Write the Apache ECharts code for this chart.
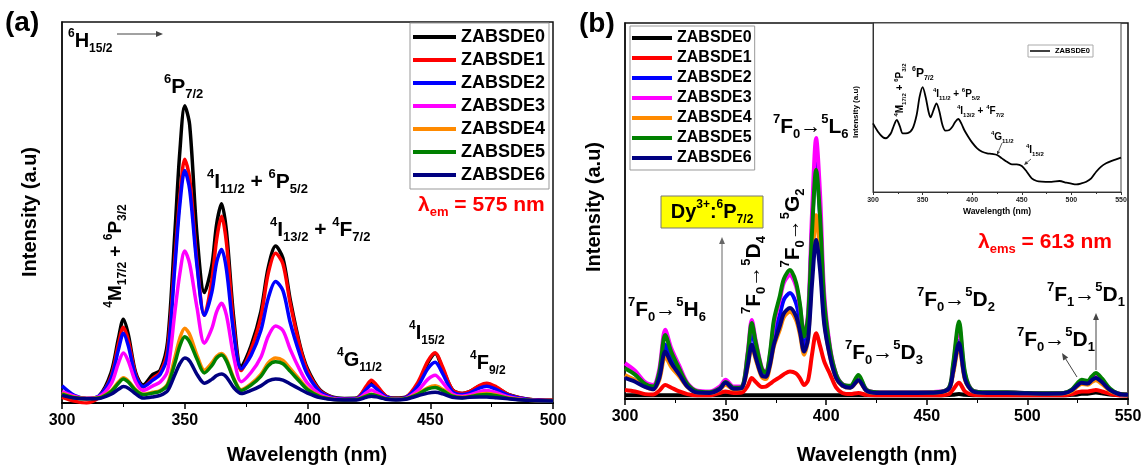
<!DOCTYPE html>
<html>
<head>
<meta charset="utf-8">
<script src="https://cdn.jsdelivr.net/npm/echarts@6/dist/echarts.min.js"></script>
<style>html,body{margin:0;padding:0;background:#fff}#chart{width:1146px;height:467px}</style>
</head>
<body>
<div id="chart"></div>
<script>
const FONT = '"Liberation Sans", Arial, Helvetica, sans-serif';
const names = ['ZABSDE0', 'ZABSDE1', 'ZABSDE2', 'ZABSDE3', 'ZABSDE4', 'ZABSDE5', 'ZABSDE6'];
const colors = ['#000000', '#ff0000', '#0000ff', '#ff00ff', '#ff8a00', '#008000', '#000080'];

// (a) excitation spectra, lambda_em = 575 nm
const wlA = [300, 305, 310, 315, 320, 323, 325, 327, 330, 333, 337, 340, 343, 346, 348, 350, 352, 355, 358, 361,
  363, 365, 367, 370, 373, 377, 381, 384, 387, 390, 393, 397, 400, 405, 410, 415, 420, 424, 426, 428,
  432, 436, 440, 445, 449, 452, 455, 459, 463, 466, 470, 473, 477, 482, 490, 500];
const aE0 = [2.5, 1.5, 1.2, 1.8, 8, 17, 22, 18, 8, 4.7, 7.5, 8.6, 16, 45, 66, 78, 73, 44, 29, 36,
  47, 52.3, 45, 22, 9.5, 15, 24, 35.5, 41.2, 38, 27, 15, 9, 3.5, 1.6, 1.2, 1.3, 4, 5.5, 4.5,
  1.8, 1.3, 1.5, 5, 10.5, 13, 9, 3.5, 2.5, 3, 4.4, 4.9, 4, 2.2, 1, 0.7];
const aE1 = [1.5, 0.5, 0, 1.5, 7, 15.5, 19.9, 16.5, 7.5, 4.2, 6.5, 8, 14, 38, 54, 64, 59, 37, 23, 32,
  43, 49, 42, 20, 8.5, 14, 22.5, 34, 39.3, 36.5, 26, 14.5, 8.5, 3.3, 1.5, 1, 1.2, 4.5, 6, 4.8,
  1.8, 1.2, 1.5, 5.5, 11, 13.2, 9.5, 3.5, 2.5, 3, 4.6, 5.2, 4.2, 2.2, 1, 0.7];
const aE2 = [4.5, 2, 1.2, 1.8, 6.5, 14, 18.3, 15, 7, 4.3, 6, 7.5, 12.5, 36, 52, 61, 56, 36, 23, 29,
  37, 40.3, 35, 18, 9, 12.5, 19, 27.5, 31.9, 29.5, 21, 12.5, 7.5, 3, 1.4, 1, 1.1, 3.6, 4.7, 3.8,
  1.6, 1.1, 1.4, 4.5, 9, 10.7, 7.8, 3, 2.2, 2.6, 3.9, 4.4, 3.5, 2, 0.9, 0.6];
const aE3 = [3, 1.8, 1.2, 1.6, 5, 10.5, 13.1, 11, 5.5, 3.3, 4.5, 5.5, 8.5, 24, 34, 39.9, 36.5, 25, 15.7, 19.5,
  24, 26.2, 23, 12, 5.6, 8, 12, 17.5, 20.2, 19, 14, 8.5, 5.2, 2.3, 1.2, 0.9, 1, 2.7, 3.4, 2.8,
  1.3, 1, 1.2, 3.3, 6.2, 7.3, 5.4, 2.4, 1.8, 2.1, 3, 3.3, 2.7, 1.6, 0.8, 0.5];
const aE4 = [2.5, 1.5, 1.2, 1.4, 3.2, 5.5, 6.6, 5.8, 3.5, 2.3, 2.8, 3.3, 5, 12, 17, 19.6, 18, 12.5, 8.6, 10.5,
  12.3, 13, 11.5, 6.5, 3.5, 5, 7.5, 10.5, 11.8, 11.2, 9, 6, 3.8, 1.8, 1, 0.8, 0.9, 1.9, 2.3, 2,
  1.1, 0.9, 1.1, 2.5, 4, 4.5, 3.6, 1.9, 1.5, 1.7, 2.3, 2.5, 2.1, 1.3, 0.7, 0.5];
const aE5 = [2.3, 1.4, 1.1, 1.3, 3, 5.2, 6.3, 5.5, 3.3, 2.2, 2.6, 3.1, 4.7, 10.5, 15, 17.4, 16, 11.5, 7.9, 9.8,
  11.8, 12.6, 11, 6.2, 3.3, 4.7, 7, 9.8, 10.8, 10.3, 8.3, 5.5, 3.5, 1.7, 1, 0.8, 0.9, 1.8, 2.2, 1.9,
  1.1, 0.9, 1.1, 2.3, 3.7, 4.1, 3.3, 1.8, 1.4, 1.6, 2.1, 2.2, 1.9, 1.2, 0.7, 0.5];
const aE6 = [2, 1.3, 1.1, 1.2, 2.3, 3.6, 4.3, 3.9, 2.4, 1.3, 1.6, 2, 3.2, 7.5, 10.3, 11.8, 11, 7.5, 5.2, 6.2,
  7.2, 7.6, 6.8, 4, 2.5, 3.3, 4.5, 5.8, 6.3, 6, 5, 3.6, 2.6, 1.4, 0.9, 0.8, 0.8, 1.5, 1.8, 1.6,
  1, 0.8, 1, 1.9, 2.6, 2.8, 2.4, 1.5, 1.3, 1.5, 1.6, 1.6, 1.4, 1.1, 0.7, 0.5];

// (b) excitation spectra, lambda_ems = 613 nm
const wlB = [300, 305, 310, 314, 317, 320, 323, 327, 331, 336, 342, 347, 350, 354, 358, 361, 363, 365, 368, 370,
  372, 374, 377, 379, 382, 385, 387, 389, 391, 393, 395, 397, 399, 402, 405, 408, 412, 416, 420, 425,
  435, 445, 455, 461, 463, 466, 469, 473, 480, 490, 500, 510, 518, 522, 525, 527, 530, 532, 534, 537,
  541, 545, 550];
const bE0 = [1, 1, 1, 1, 1, 1, 1, 1, 1, 1, 1, 1, 1, 1, 1, 1, 1, 1, 1, 1,
  1, 1, 1, 1, 1, 1, 1, 1, 1, 1, 1, 1, 1, 1, 1, 1, 1, 1, 1, 1,
  1, 1, 1, 1.05, 1.1, 1.3, 1.1, 1, 1, 1, 1, 1, 1, 1.1, 1.2, 1.4, 1.4, 1.6, 1.7, 1.5,
  1.2, 1.05, 1];
const bE1 = [2.4, 2.0, 1.3, 1.2, 2.2, 3.7, 3.0, 2.0, 1.3, 1.0, 1.0, 1.6, 2.0, 1.6, 1.7, 3.5, 5.6, 4.5, 3.2, 3.3,
  4.0, 4.8, 5.8, 6.6, 7.3, 6.8, 5.5, 3.7, 5.0, 12.0, 17.5, 14.0, 10.0, 6.5, 3.0, 1.6, 1.3, 1.6, 1.1, 1.0,
  1.0, 1.0, 1.0, 1.3, 2.5, 4.3, 2.0, 1.1, 1.0, 1.0, 1.0, 1.0, 1.0, 1.3, 1.8, 2.0, 2.0, 2.2, 2.4, 2.0,
  1.4, 1.0, 0.9];
const bE2 = [6.0, 5.0, 3.5, 2.8, 6.0, 14.5, 10.5, 7.0, 3.5, 1.8, 1.7, 2.7, 4.3, 2.8, 3.0, 10.5, 18.4, 13.0, 6.8, 6.0,
  10.0, 17.0, 22.5, 26.5, 28.2, 25.5, 20.5, 13.5, 20.0, 46.0, 63.0, 48.0, 25.0, 12.5, 6.0, 3.8, 3.2, 5.2, 2.3, 1.7,
  1.7, 1.7, 1.8, 2.8, 7.0, 15.5, 5.5, 2.1, 1.7, 1.7, 1.5, 1.5, 1.6, 2.3, 3.8, 4.5, 4.2, 5.2, 5.8, 4.6,
  2.5, 1.4, 1.1];
const bE3 = [9.5, 7.5, 4.5, 3.7, 7.8, 18.4, 13.5, 8.8, 4.3, 2.2, 2.0, 3.3, 5.1, 3.3, 3.4, 12.5, 21.0, 15.5, 8.3, 7.0,
  11.5, 20.0, 26.5, 31.0, 33.0, 30.0, 24.5, 16.8, 23.0, 50.0, 69.4, 54.0, 28.0, 13.5, 6.5, 4.0, 3.4, 6.0, 2.5, 1.8,
  1.8, 1.8, 1.9, 3.0, 8.5, 19.0, 6.5, 2.2, 1.8, 1.8, 1.6, 1.5, 1.6, 2.4, 4.0, 4.8, 4.5, 5.6, 6.3, 5.0,
  2.6, 1.5, 1.2];
const bE4 = [6.4, 5.0, 3.3, 2.6, 5.0, 11.3, 8.5, 6.0, 3.2, 1.7, 1.6, 2.5, 3.8, 2.6, 2.8, 8.5, 14.0, 10.5, 5.8, 5.3,
  8.5, 14.0, 18.5, 21.8, 23.2, 21.0, 17.0, 11.8, 16.0, 35.0, 48.9, 38.0, 21.0, 11.0, 5.5, 3.5, 3.0, 4.8, 2.2, 1.6,
  1.6, 1.6, 1.7, 2.6, 6.5, 14.0, 5.0, 2.0, 1.6, 1.6, 1.5, 1.4, 1.5, 2.1, 3.4, 4.0, 3.8, 4.5, 5.0, 4.0,
  2.2, 1.4, 1.1];
const bE5 = [8.2, 6.5, 4.0, 3.3, 7.0, 17.0, 12.5, 8.0, 4.0, 2.0, 1.8, 2.8, 4.5, 3.0, 3.2, 12.0, 20.2, 15.0, 8.0, 6.9,
  12.0, 21.0, 27.5, 32.0, 34.3, 31.0, 25.0, 16.6, 22.0, 45.0, 61.0, 48.0, 26.0, 13.0, 6.5, 4.0, 3.5, 6.4, 2.5, 1.8,
  1.7, 1.7, 1.8, 3.0, 9.0, 20.6, 7.0, 2.2, 1.8, 1.8, 1.6, 1.5, 1.6, 2.5, 4.3, 5.1, 4.8, 6.0, 6.9, 5.5,
  2.8, 1.5, 1.2];
const bE6 = [5.6, 4.6, 3.2, 2.6, 5.5, 12.6, 9.5, 6.5, 3.3, 1.7, 1.6, 2.6, 4.3, 2.7, 2.9, 9.0, 14.4, 11.0, 6.2, 5.9,
  9.0, 14.5, 19.5, 22.8, 24.2, 22.0, 17.8, 12.6, 16.0, 31.0, 42.3, 34.0, 20.0, 11.0, 5.5, 3.6, 3.0, 5.0, 2.2, 1.6,
  1.6, 1.6, 1.7, 2.7, 7.0, 14.9, 5.3, 2.0, 1.6, 1.6, 1.5, 1.4, 1.5, 2.3, 3.7, 4.3, 4.1, 5.0, 5.6, 4.5,
  2.4, 1.4, 1.1];

// inset: ZABSDE0 excitation
const wlC = [300, 305, 310, 313, 318, 320, 324, 327, 330, 335, 340, 344, 347, 350, 353, 356, 358, 361, 364, 367,
  370, 373, 377, 380, 383, 386, 389, 392, 396, 400, 405, 410, 415, 420, 425, 430, 435, 440, 445, 450,
  455, 460, 465, 470, 480, 488, 495, 500, 505, 510, 515, 520, 525, 530, 535, 540, 545, 550];
const cE0 = [40.6, 35.7, 32.4, 31.8, 34.7, 37.7, 42.6, 39, 34.7, 34.9, 37.7, 45.6, 56.4, 62, 56.4, 47.5, 44.2, 48.5, 52.5, 47.5,
  39.6, 36.3, 36.7, 38.6, 41.6, 43.2, 40.6, 36.7, 32.7, 29.2, 25.8, 23.8, 22.9, 22.5, 21.9, 19.9, 17.9, 16.4, 16.4, 15.4,
  12, 8.1, 6.5, 6.1, 6, 6.5, 5.5, 4.9, 4.5, 5.1, 6.1, 8.1, 12, 15, 17, 18.3, 19.3, 20.3];

const panelA = [aE0, aE1, aE2, aE3, aE4, aE5, aE6];
const panelB = [bE0, bE1, bE2, bE3, bE4, bE5, bE6];

function pairs(xs, ys) {
  return xs.map((x, i) => [x, ys[i]]);
}

function richStyles(size, color) {
  const s = Math.round(size * 0.62);
  const base = {fontFamily: FONT, fontWeight: 'bold', fill: color};
  return {
    p: Object.assign({fontSize: s, lineHeight: s, verticalAlign: 'top'}, base),
    b: Object.assign({fontSize: s, lineHeight: s, verticalAlign: 'bottom'}, base)
  };
}

function label(x, y, text, size, o) {
  o = o || {};
  const color = o.color || '#000';
  return {
    type: 'text', x: x, y: y, rotation: o.rot || 0, z: 100, silent: true,
    style: {
      text: text, fill: color, fontFamily: FONT, fontWeight: 'bold', fontSize: size,
      lineHeight: Math.round(size * 1.35), align: o.align || 'left', verticalAlign: 'middle',
      rich: richStyles(size, color)
    }
  };
}

function arrow(x1, y1, x2, y2, color, lw, head) {
  const a = Math.atan2(y2 - y1, x2 - x1), L = head || 7, W = L * 0.42;
  const bx = x2 - L * Math.cos(a), by = y2 - L * Math.sin(a);
  const nx = -Math.sin(a) * W, ny = Math.cos(a) * W;
  return [
    {type: 'line', silent: true, z: 100, shape: {x1: x1, y1: y1, x2: bx, y2: by}, style: {stroke: color, lineWidth: lw}},
    {type: 'polygon', silent: true, z: 100, shape: {points: [[x2, y2], [bx + nx, by + ny], [bx - nx, by - ny]]}, style: {fill: color}}
  ];
}

function xAxisOf(grid, max, fs, small) {
  return {
    gridIndex: grid, type: 'value', min: 300, max: max, interval: 50,
    axisLine: {show: true, onZero: false, lineStyle: {color: small ? '#333' : '#000', width: small ? 1 : 2}},
    axisTick: {show: true, length: small ? 3 : 6, lineStyle: {color: small ? '#333' : '#000', width: small ? 1 : 1.5}},
    minorTick: {show: true, splitNumber: 2, length: small ? 2 : 4, lineStyle: {color: small ? '#333' : '#000', width: 1}},
    splitLine: {show: false},
    axisLabel: {fontSize: fs, fontWeight: 'bold', fontFamily: FONT, color: small ? '#222' : '#000', margin: small ? 5 : 10,
      showMinLabel: true, showMaxLabel: true}
  };
}

function yAxisOf(grid, small) {
  return {
    gridIndex: grid, type: 'value', min: 0, max: 100,
    axisLine: {show: true, lineStyle: {color: small ? '#333' : '#111', width: small ? 1 : 1.5}},
    axisTick: {show: false}, axisLabel: {show: false}, splitLine: {show: false}
  };
}

const series = [];
panelA.forEach((ys, k) => series.push({
  name: names[k], type: 'line', xAxisIndex: 0, yAxisIndex: 0, data: pairs(wlA, ys),
  showSymbol: false, symbol: 'none', smooth: 0.3, silent: true,
  lineStyle: {color: colors[k], width: 3.5}, itemStyle: {color: colors[k]}
}));
panelB.forEach((ys, k) => series.push({
  name: names[k], type: 'line', xAxisIndex: 1, yAxisIndex: 1, data: pairs(wlB, ys),
  showSymbol: false, symbol: 'none', smooth: 0.3, silent: true,
  lineStyle: {color: colors[k], width: 4}, itemStyle: {color: colors[k]}
}));
series.push({
  name: names[0], type: 'line', xAxisIndex: 2, yAxisIndex: 2, data: pairs(wlC, cE0),
  showSymbol: false, symbol: 'none', smooth: 0.3, silent: true,
  lineStyle: {color: '#000', width: 1.8}, itemStyle: {color: '#000'}
});

const G = [];
// panel (a)
G.push(label(5, 23, '(a)', 28));
G.push(label(68, 41, '{p|6}H{b|15/2}', 20));
G.push(...arrow(117, 34, 163, 34, '#444', 1, 7));
G.push(label(164, 87, '{p|6}P{b|7/2}', 21));
G.push(label(207, 182, '{p|4}I{b|11/2} + {p|6}P{b|5/2}', 21));
G.push(label(270, 230, '{p|4}I{b|13/2} + {p|4}F{b|7/2}', 21));
G.push(label(116, 256, '{p|4}M{b|17/2} + {p|6}P{b|3/2}', 19, {align: 'center', rot: Math.PI / 2}));
G.push(label(337, 360, '{p|4}G{b|11/2}', 20));
G.push(label(409, 333, '{p|4}I{b|15/2}', 20));
G.push(label(470, 363, '{p|4}F{b|9/2}', 20));
G.push(label(418, 205, 'λ{b|em} = 575 nm', 21, {color: '#ff0000'}));
G.push(label(307, 455, 'Wavelength (nm)', 20, {align: 'center'}));
G.push(label(30, 212, 'Intensity (a.u)', 20, {align: 'center', rot: Math.PI / 2}));

// panel (b)
G.push(label(579, 24, '(b)', 28));
G.push(label(773, 127, '{p|7}F{b|0}→{p|5}L{b|6}', 21));
G.push(label(793, 228, '{p|7}F{b|0}→{p|5}G{b|2}', 21, {align: 'center', rot: Math.PI / 2}));
G.push(label(754, 275, '{p|7}F{b|0}→{p|5}D{b|4}', 21, {align: 'center', rot: Math.PI / 2}));
G.push(label(628, 310, '{p|7}F{b|0}→{p|5}H{b|6}', 21));
G.push({type: 'rect', silent: true, z: 95, shape: {x: 661, y: 196, width: 102, height: 32},
  style: {fill: '#ffff00', stroke: '#777', lineWidth: 1}});
G.push(label(712, 212, 'Dy{p|3+}:{p|6}P{b|7/2}', 20, {align: 'center'}));
G.push(...arrow(722, 377, 722, 237, '#666', 1, 7));
G.push(label(978, 242, 'λ{b|ems} = 613 nm', 21, {color: '#ff0000'}));
G.push(label(845, 353, '{p|7}F{b|0}→{p|5}D{b|3}', 21));
G.push(label(917, 300, '{p|7}F{b|0}→{p|5}D{b|2}', 21));
G.push(label(1047, 295, '{p|7}F{b|1}→{p|5}D{b|1}', 21));
G.push(label(1017, 340, '{p|7}F{b|0}→{p|5}D{b|1}', 21));
G.push(...arrow(1077, 377, 1062, 353, '#444', 1, 7));
G.push(...arrow(1096, 370, 1096, 313, '#444', 1, 7));
G.push(label(877, 455, 'Wavelength (nm)', 20, {align: 'center'}));
G.push(label(594, 207, 'Intensity (a.u)', 20, {align: 'center', rot: Math.PI / 2}));

// inset
G.push(label(900, 90, '{p|4}M{b|17/2} + {p|6}P{b|3/2}', 10, {align: 'center', rot: Math.PI / 2}));
G.push(label(912, 74, '{p|6}P{b|7/2}', 12));
G.push(label(933, 94, '{p|4}I{b|11/2} + {p|6}P{b|5/2}', 10));
G.push(label(957, 111, '{p|4}I{b|13/2} + {p|4}F{b|7/2}', 10));
G.push(label(991, 137, '{p|4}G{b|11/2}', 10));
G.push(...arrow(1002, 143, 997, 155, '#333', 0.8, 4));
G.push(label(1026, 150, '{p|4}I{b|15/2}', 10));
G.push(...arrow(1031, 159, 1024, 165, '#333', 0.8, 4));
G.push(label(997, 212, 'Wavelength (nm)', 8.5, {align: 'center'}));
G.push(label(856, 112, 'Intensity (a.u)', 8, {align: 'center', rot: Math.PI / 2}));

const legendText = (fs) => ({fontSize: fs, fontWeight: 'bold', fontFamily: FONT, color: '#000', lineHeight: fs});

const option = {
  animation: false,
  backgroundColor: '#fff',
  grid: [
    {left: 62, top: 22, width: 491, height: 381, show: true, borderColor: '#111', borderWidth: 1.5, backgroundColor: 'transparent'},
    {left: 625, top: 23, width: 503, height: 376, show: true, borderColor: '#111', borderWidth: 1.5, backgroundColor: 'transparent'},
    {left: 873, top: 23, width: 248, height: 169, show: true, borderColor: '#444', borderWidth: 1, backgroundColor: '#fff'}
  ],
  xAxis: [xAxisOf(0, 500, 16, false), xAxisOf(1, 550, 16, false), xAxisOf(2, 550, 7, true)],
  yAxis: [yAxisOf(0, false), yAxisOf(1, false), yAxisOf(2, true)],
  legend: [
    {data: names, orient: 'vertical', left: 410, top: 23, icon: 'rect', itemWidth: 43, itemHeight: 4, itemGap: 5,
      padding: [5, 4, 5, 3], borderColor: '#999', borderWidth: 1, backgroundColor: '#fff', selectedMode: false,
      textStyle: legendText(18)},
    {data: names, orient: 'vertical', left: 630, top: 26, icon: 'rect', itemWidth: 40, itemHeight: 4, itemGap: 4,
      padding: [4, 3, 4, 2], borderColor: '#999', borderWidth: 1, backgroundColor: '#fff', selectedMode: false,
      textStyle: legendText(16)},
    {data: [names[0]], orient: 'vertical', left: 1028, top: 45, icon: 'rect', itemWidth: 20, itemHeight: 1.5, itemGap: 2,
      padding: [2, 3, 2, 2], borderColor: '#aaa', borderWidth: 1, selectedMode: false,
      textStyle: legendText(7.5)}
  ],
  series: series,
  graphic: G
};

const chart = echarts.init(document.getElementById('chart'), null, {renderer: 'canvas'});
chart.setOption(option);
</script>
</body>
</html>
